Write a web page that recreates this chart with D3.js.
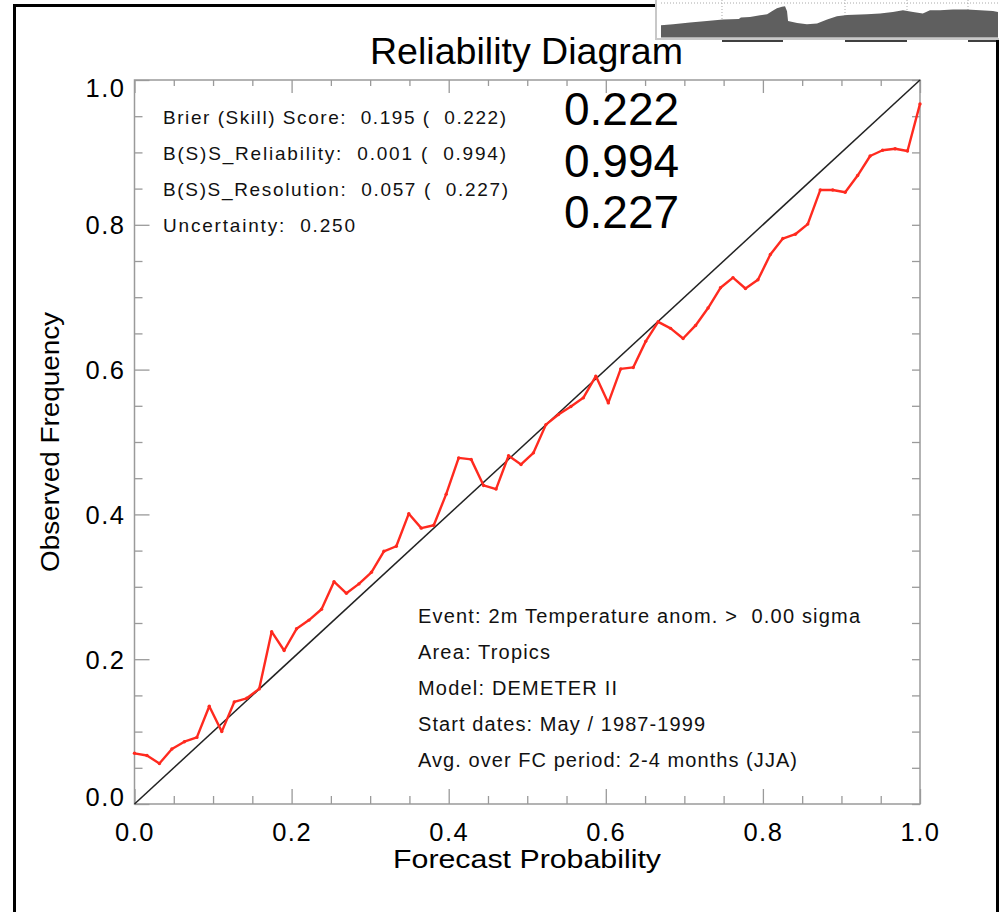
<!DOCTYPE html>
<html><head><meta charset="utf-8">
<script src="https://cdn.jsdelivr.net/npm/d3@7/dist/d3.min.js"></script>
<style>
html,body{margin:0;padding:0;background:#fff;}
svg{display:block;font-family:"Liberation Sans",Arial,Helvetica,sans-serif;}
</style></head><body>
<svg id="chart" width="999" height="912"></svg>
<script>
// ---- data ----
const forecastProb = [0,.0159,.0317,.0476,.0635,.0794,.0952,.1111,.127,.1429,.1587,.1746,.1905,.2063,.2222,.2381,.254,.2698,.2857,.3016,.3175,.3333,.3492,.3651,.381,.3968,.4127,.4286,.4444,.4603,.4762,.4921,.5079,.5238,.5397,.5556,.5714,.5873,.6032,.619,.6349,.6508,.6667,.6825,.6984,.7143,.7302,.746,.7619,.7778,.7937,.8095,.8254,.8413,.8571,.873,.8889,.9048,.9206,.9365,.9524,.9683,.9841,1];
const observedFreq = [.070,.067,.056,.076,.086,.092,.135,.100,.141,.146,.159,.238,.212,.242,.254,.269,.307,.291,.304,.320,.349,.356,.401,.381,.385,.428,.478,.476,.440,.435,.481,.469,.485,.524,.538,.549,.561,.591,.554,.601,.603,.639,.666,.657,.643,.661,.685,.713,.727,.712,.724,.759,.781,.787,.801,.848,.848,.845,.868,.895,.903,.905,.902,.967];
const majorTicks = [0,0.2,0.4,0.6,0.8,1.0];
const minorTicks = [0.05,0.1,0.15,0.25,0.3,0.35,0.45,0.5,0.55,0.65,0.7,0.75,0.85,0.9,0.95];
const tickLabels = ["0.0","0.2","0.4","0.6","0.8","1.0"];
const title = "Reliability Diagram";
const xTitle = "Forecast Probability";
const yTitle = "Observed Frequency";
const statLines = ["Brier (Skill) Score:  0.195 (  0.222)","B(S)S_Reliability:  0.001 (  0.994)","B(S)S_Resolution:  0.057 (  0.227)","Uncertainty:  0.250"];
const bigValues = ["0.222","0.994","0.227"];
const infoLines = ["Event: 2m Temperature anom. >  0.00 sigma","Area: Tropics","Model: DEMETER II","Start dates: May / 1987-1999","Avg. over FC period: 2-4 months (JJA)"];
// decorative inset (cropped strip, top right)
const insetPos = [0,3.6,8.6,13.6,18.4,23.1,23.7,26.4,29.4,31.5,32.9,34.4,35.9,36.8,37.4,37.7,40.4,43.3,46.3,49.3,52.2,55.2,61.1,65,68.8,71.8,74.8,77.7,79.8,82.8,86.6,90.8,94.7,98.5,100];
const insetHeight = [12.3,13.3,15,16.6,18,18.6,20,20.6,22.3,23.3,26.3,29.3,30.8,31.3,26.3,16.6,14.6,13.3,14,18,21.3,22.6,23.3,24,25.6,27.3,25.6,24,27.3,27.3,28,28,27.3,26.6,25.6];
const insetGrid = [18.1,54.6,73,91.1];
const insetBar = [[18.1,36.2],[54.6,73],[91.1,100]];

// ---- layout ----
const svg = d3.select("#chart");
const L=134.5, R=920, T=80, B=804;
const x = d3.scaleLinear().domain([0,1]).range([L,R]);
const y = d3.scaleLinear().domain([0,1]).range([B,T]);
const axisCol = "#9a9a9a";

// outer frame
svg.append("rect").attr("x",14.5).attr("y",5.5).attr("width",983).attr("height",930)
  .attr("fill","none").attr("stroke","#000").attr("stroke-width",3);

// title
svg.append("text").attr("x",526.5).attr("y",64).attr("text-anchor","middle")
  .attr("font-size",36).attr("fill","#000").attr("textLength",313).attr("lengthAdjust","spacingAndGlyphs").text(title);

// plot box
svg.append("rect").attr("x",L).attr("y",T).attr("width",R-L).attr("height",B-T)
  .attr("fill","none").attr("stroke",axisCol).attr("stroke-width",1.5);

function styleAxis(g){ g.select(".domain").remove(); g.selectAll("line").attr("stroke",axisCol).attr("stroke-width",1.3); }

// bottom axis
svg.append("g").attr("transform",`translate(0,${B})`)
  .call(d3.axisBottom(x).tickValues(majorTicks).tickSizeInner(-15).tickSizeOuter(0).tickPadding(19).tickFormat((d,i)=>tickLabels[i]))
  .call(styleAxis)
  .call(g=>g.selectAll("text").attr("font-size",25.5).attr("fill","#000").attr("font-family","Liberation Sans, Arial, sans-serif").style("letter-spacing","1.5px"));
svg.append("g").attr("transform",`translate(0,${B})`)
  .call(d3.axisBottom(x).tickValues(minorTicks).tickSizeInner(-8).tickSizeOuter(0).tickFormat(""))
  .call(styleAxis);
// top axis
svg.append("g").attr("transform",`translate(0,${T})`)
  .call(d3.axisTop(x).tickValues(majorTicks).tickSizeInner(-13).tickSizeOuter(0).tickFormat(""))
  .call(styleAxis);
svg.append("g").attr("transform",`translate(0,${T})`)
  .call(d3.axisTop(x).tickValues(minorTicks).tickSizeInner(-6).tickSizeOuter(0).tickFormat(""))
  .call(styleAxis);
// left axis
svg.append("g").attr("transform",`translate(${L},0)`)
  .call(d3.axisLeft(y).tickValues(majorTicks).tickSizeInner(-15).tickSizeOuter(0).tickPadding(9).tickFormat((d,i)=>tickLabels[i]))
  .call(styleAxis)
  .call(g=>g.selectAll("text").attr("font-size",25.5).attr("fill","#000").attr("font-family","Liberation Sans, Arial, sans-serif").style("letter-spacing","1.5px")
     .attr("dy",d=> d===0 ? "0.05em" : (d===1 ? "0.64em" : "0.36em")));
svg.append("g").attr("transform",`translate(${L},0)`)
  .call(d3.axisLeft(y).tickValues(minorTicks).tickSizeInner(-8).tickSizeOuter(0).tickFormat(""))
  .call(styleAxis);
// right axis
svg.append("g").attr("transform",`translate(${R},0)`)
  .call(d3.axisRight(y).tickValues(majorTicks).tickSizeInner(-8).tickSizeOuter(0).tickFormat(""))
  .call(styleAxis);
svg.append("g").attr("transform",`translate(${R},0)`)
  .call(d3.axisRight(y).tickValues(minorTicks).tickSizeInner(-8).tickSizeOuter(0).tickFormat(""))
  .call(styleAxis);

// axis titles
svg.append("text").attr("x",527).attr("y",868).attr("text-anchor","middle")
  .attr("font-size",26).attr("textLength",268).attr("lengthAdjust","spacingAndGlyphs").text(xTitle);
svg.append("text").attr("transform","translate(59,442) rotate(-90)").attr("text-anchor","middle")
  .attr("font-size",26).attr("textLength",260).attr("lengthAdjust","spacingAndGlyphs").text(yTitle);

// diagonal
svg.append("line").attr("x1",x(0)).attr("y1",y(0)).attr("x2",x(1)).attr("y2",y(1))
  .attr("stroke","#222").attr("stroke-width",1.5);

// reliability curve
const pts = forecastProb.map((p,i)=>[p,observedFreq[i]]);
svg.append("path").datum(pts)
  .attr("d",d3.line().x(d=>x(d[0])).y(d=>y(d[1])))
  .attr("fill","none").attr("stroke","#ff2a1f").attr("stroke-width",2.4).attr("stroke-linejoin","round");
svg.append("g").selectAll("circle").data(pts).join("circle")
  .attr("cx",d=>x(d[0])).attr("cy",d=>y(d[1])).attr("r",1.7).attr("fill","#ff2a1f");

// stats text
const statWidths = [343,343,345,192];
const statBase = [123.5,160,196,232];
svg.append("g").selectAll("text").data(statLines).join("text")
  .attr("x",163).attr("y",(d,i)=>statBase[i]).attr("font-size",19).attr("fill","#111")
  .attr("textLength",(d,i)=>statWidths[i]).attr("lengthAdjust","spacing").style("white-space","pre").text(d=>d);

// big values
const bigBase = [125,177,228];
svg.append("g").selectAll("text").data(bigValues).join("text")
  .attr("x",564).attr("y",(d,i)=>bigBase[i]).attr("font-size",46).attr("fill","#000").text(d=>d);

// info text
const infoWidths = [442,132,199,287,379];
svg.append("g").selectAll("text").data(infoLines).join("text")
  .attr("x",418).attr("y",(d,i)=>623+36*i).attr("font-size",20).attr("fill","#111")
  .attr("textLength",(d,i)=>infoWidths[i]).attr("lengthAdjust","spacing").style("white-space","pre").text(d=>d);

// inset strip (top-right)
const ix = d3.scaleLinear().domain([0,100]).range([661,998]);
const iy = d3.scaleLinear().domain([0,40]).range([37.5,-2.5]);
const inset = svg.append("g");
inset.append("rect").attr("x",656).attr("y",-3).attr("width",346).attr("height",42)
  .attr("fill","#fff").attr("stroke","#c8c8c8").attr("stroke-width",2);
inset.append("line").attr("x1",ix(0)).attr("x2",ix(100)).attr("y1",3).attr("y2",3)
  .attr("stroke","#aaa").attr("stroke-dasharray","1,2");
inset.selectAll(".vg").data(insetGrid).join("line")
  .attr("x1",d=>ix(d)).attr("x2",d=>ix(d)).attr("y1",0).attr("y2",iy(0))
  .attr("stroke","#aaa").attr("stroke-dasharray","1,2");
inset.append("path").datum(insetPos.map((p,i)=>[p,insetHeight[i]]))
  .attr("d",d3.area().x(d=>ix(d[0])).y0(iy(0)).y1(d=>iy(d[1])))
  .attr("fill","#5f5f5f");
inset.selectAll(".sb").data(insetBar).join("line")
  .attr("x1",d=>ix(d[0])).attr("x2",d=>ix(d[1])).attr("y1",41).attr("y2",41)
  .attr("stroke","#000").attr("stroke-width",1.5);
</script></body></html>
